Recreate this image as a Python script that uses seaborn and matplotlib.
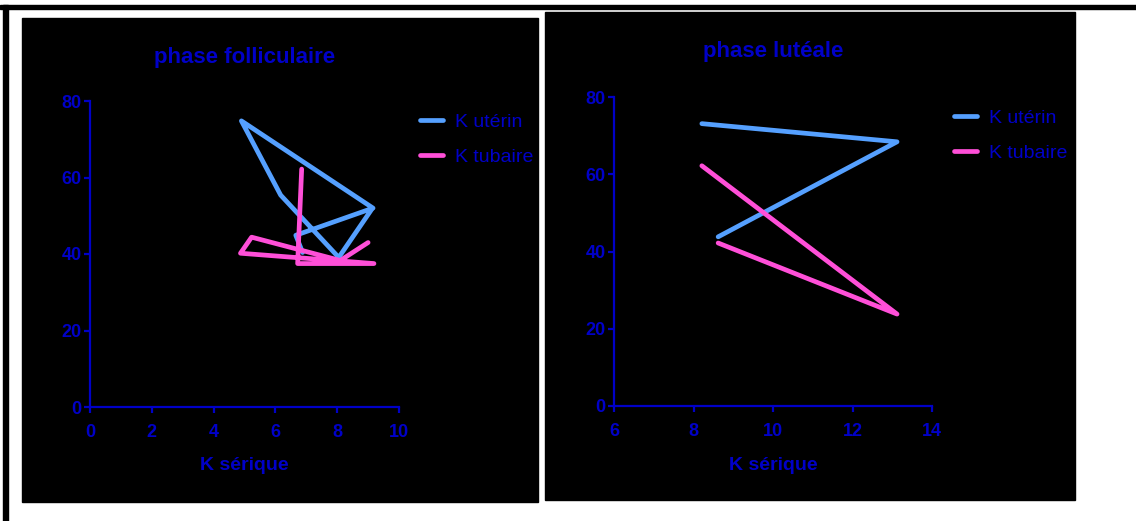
import matplotlib
matplotlib.use('Agg')
import matplotlib.pyplot as plt
import seaborn as sns
from matplotlib import font_manager
from matplotlib.patches import Rectangle

# phase folliculaire
foll_x_uterin = [6.88, 6.66, 9.16, 4.90, 6.17, 8.05, 9.10]
foll_y_uterin = [40.4, 44.9, 52.0, 74.8, 55.4, 39.1, 51.5]
foll_x_tubaire = [9.0, 8.1, 5.23, 4.87, 9.19, 6.72, 6.85]
foll_y_tubaire = [43.0, 38.3, 44.4, 40.2, 37.5, 37.5, 62.2]

# phase lutéale
lut_x_uterin = [8.21, 13.12, 8.62]
lut_y_uterin = [73.1, 68.4, 43.8]
lut_x_tubaire = [8.21, 13.12, 8.62]
lut_y_tubaire = [62.2, 23.8, 42.2]

series_labels = ['K utérin', 'K tubaire']
titles = ['phase folliculaire', 'phase lutéale']
xlabel = 'K sérique'

sns.set_theme(style='white')
names = {f.name for f in font_manager.fontManager.ttflist}
narrow = 'Liberation Sans Narrow' if 'Liberation Sans Narrow' in names else 'Liberation Sans'
plt.rcParams['font.family'] = [narrow, 'DejaVu Sans']

BLUE_TXT = '#0000C8'
C_UT = '#55A0FF'
C_TUB = '#FF4FD8'

fig = plt.figure(figsize=(11.36, 5.21), dpi=100)
W, H = 1136, 521

def px_rect(x0, y0, x1, y1, color='black'):
    fig.patches.append(Rectangle((x0 / W, 1 - y1 / H), (x1 - x0) / W, (y1 - y0) / H,
                                 transform=fig.transFigure, color=color, zorder=-5))

# frame lines and black panels
px_rect(0, 5, W, 8.6)
px_rect(3.5, 5, 8, H)
px_rect(22, 18, 538, 502)
px_rect(545, 12, 1075, 500)

ax1 = fig.add_axes([90 / W, 1 - 407 / H, 309 / W, 306 / H])
ax2 = fig.add_axes([614 / W, 1 - 406 / H, 318 / W, 309 / H])

panels = [
    (ax1, foll_x_uterin, foll_y_uterin, foll_x_tubaire, foll_y_tubaire, (0, 10), [0, 2, 4, 6, 8, 10]),
    (ax2, lut_x_uterin, lut_y_uterin, lut_x_tubaire, lut_y_tubaire, (6, 14), [6, 8, 10, 12, 14]),
]

for ax, xu, yu, xt, yt, xlim, xticks in panels:
    ax.set_facecolor('black')
    sns.lineplot(x=xu, y=yu, sort=False, estimator=None, ax=ax, color=C_UT,
                 linewidth=3.4, solid_capstyle='round', solid_joinstyle='round', label=series_labels[0])
    sns.lineplot(x=xt, y=yt, sort=False, estimator=None, ax=ax, color=C_TUB,
                 linewidth=3.4, solid_capstyle='round', solid_joinstyle='round', label=series_labels[1])
    ax.set_xlim(*xlim)
    ax.set_ylim(0, 80)
    ax.set_xticks(xticks)
    ax.set_yticks([0, 20, 40, 60, 80])
    for s in ['top', 'right']:
        ax.spines[s].set_visible(False)
    for s in ['left', 'bottom']:
        ax.spines[s].set_color(BLUE_TXT)
        ax.spines[s].set_linewidth(1.6)
    ax.tick_params(axis='both', direction='out', length=4, width=1.6, color=BLUE_TXT,
                   labelcolor=BLUE_TXT, labelsize=13, left=True, bottom=True)
    ax.tick_params(axis='x', pad=8)
    ax.tick_params(axis='y', pad=2)
    for lab in ax.get_xticklabels() + ax.get_yticklabels():
        lab.set_fontweight('bold')
    ax.set_xlabel('')
    ax.set_ylabel('')
    ax.get_legend().remove()
    ax.grid(False)

# titles and axis labels
fig.text(245 / W, 1 - 57 / H, titles[0], ha='center', va='center', color=BLUE_TXT,
         fontsize=16, fontweight='bold')
fig.text(773 / W, 1 - 52 / H, titles[1], ha='center', va='center', color=BLUE_TXT,
         fontsize=16, fontweight='bold')
fig.text(244 / W, 1 - 465 / H, xlabel, ha='center', va='center', color=BLUE_TXT,
         fontsize=14, fontweight='bold')
fig.text(773 / W, 1 - 465 / H, xlabel, ha='center', va='center', color=BLUE_TXT,
         fontsize=14, fontweight='bold')

# legends
for ax, (lx, ly) in [(ax1, (420, 113)), (ax2, (954, 109))]:
    h, l = ax.get_lines()[:2], series_labels
    leg = ax.legend(h, l, loc='upper left', bbox_to_anchor=(lx / W, 1 - ly / H),
                    bbox_transform=fig.transFigure, frameon=False, fontsize=14,
                    handlelength=1.2, handletextpad=0.6, labelspacing=0.9,
                    borderpad=0, borderaxespad=0)
    for t in leg.get_texts():
        t.set_color(BLUE_TXT)
    for ln in leg.get_lines():
        ln.set_linewidth(3.4)

fig.savefig('out.png', dpi=100, facecolor='white')
